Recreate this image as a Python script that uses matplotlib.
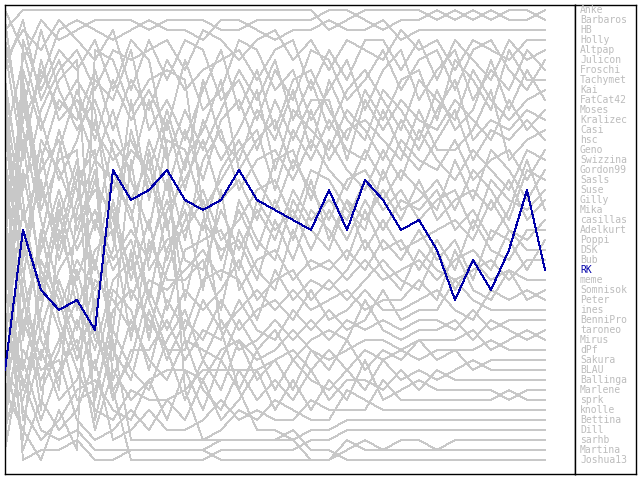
import matplotlib
matplotlib.use("Agg")
import matplotlib.pyplot as plt

names = ["Anke", "Barbaros", "HB", "Holly", "Altpap", "Julicon", "Froschi", "Tachymet",
         "Kai", "FatCat42", "Moses", "Kralizec", "Casi", "hsc", "Geno", "Swizzina",
         "Gordon99", "Sasls", "Suse", "Gilly", "Mika", "casillas", "Adelkurt", "Poppi",
         "DSK", "Bub", "RK", "meme", "Somnisok", "Peter", "ines", "BenniPro", "taroneo",
         "Mirus", "dPf", "Sakura", "BLAU", "Ballinga", "Marlene", "sprk", "knolle",
         "Bettina", "Dill", "sarhb", "Martina", "Joshua13"]

highlight = "RK"

ranks = {
    "Anke":     [3,1,1,1,1,1,1,1,1,1,1,1,1,1,1,1,1,1,3,2,1,1,1,1,2,1,2,1,2,2,1],
    "Barbaros": [14,6,2,4,3,2,2,2,3,2,2,2,3,3,2,2,2,2,1,1,2,3,2,2,1,2,1,2,1,1,2],
    "HB":       [27,12,8,3,2,3,4,3,2,3,3,4,2,2,3,4,3,3,2,3,3,2,4,3,3,3,3,3,3,3,3],
    "Holly":    [9,19,11,7,5,9,5,6,5,4,7,3,4,6,4,3,6,4,7,4,5,6,3,5,4,7,4,5,6,4,4],
    "Altpap":   [40,28,16,10,12,7,13,8,11,6,9,7,6,5,8,5,4,9,5,8,4,4,7,4,8,4,6,8,4,6,5],
    "Julicon":  [6,3,5,2,4,6,3,9,4,8,4,5,10,8,12,7,10,5,6,10,8,5,9,6,5,9,5,4,7,9,6],
    "Froschi":  [18,33,24,15,9,14,8,12,9,13,6,11,9,4,5,9,7,12,9,6,11,7,5,10,7,5,10,7,9,5,7],
    "Tachymet": [1,5,12,18,14,8,10,5,13,10,14,9,5,11,7,13,8,7,11,14,9,12,8,7,12,6,8,11,5,8,8],
    "Kai":      [33,21,30,22,16,23,14,17,10,16,11,15,11,7,10,6,12,8,13,9,7,10,13,8,10,12,7,10,12,10,9],
    "FatCat42": [11,25,18,26,20,12,19,15,17,11,17,8,14,16,11,14,9,15,8,12,14,9,11,14,9,13,11,6,11,7,10],
    "Moses":    [24,9,20,13,19,27,17,22,14,19,13,18,12,10,15,10,14,10,10,16,10,13,10,12,13,10,12,14,10,13,11],
    "Kralizec": [2,15,7,11,8,11,24,10,20,12,19,12,16,13,9,17,11,13,15,11,13,16,12,15,11,8,14,12,13,11,12],
    "Casi":     [37,40,33,27,24,18,22,27,15,23,16,13,8,17,14,12,17,11,16,13,12,14,16,11,15,15,13,9,16,14,13],
    "hsc":      [7,2,10,6,11,16,11,18,23,14,15,21,18,15,13,19,13,16,12,15,16,11,15,17,14,11,16,13,14,12,14],
    "Geno":     [29,17,27,31,26,29,25,13,19,17,24,16,13,19,16,15,18,14,17,19,15,18,14,16,17,14,18,16,15,18,15],
    "Swizzina": [15,37,29,20,28,22,27,24,30,21,18,14,20,18,22,16,15,20,14,17,19,15,18,13,16,18,15,17,19,15,16],
    "Gordon99": [22,11,3,9,13,10,15,20,16,26,20,23,17,14,18,21,16,19,22,18,17,20,17,19,21,16,20,15,17,20,17],
    "Sasls":    [45,35,38,34,30,35,28,26,33,27,22,19,24,22,19,18,22,17,18,21,23,17,21,20,18,21,17,19,22,17,18],
    "Suse":     [12,26,14,17,22,19,21,30,25,20,26,27,21,25,21,24,19,22,20,22,18,21,19,22,20,19,23,18,20,21,19],
    "Gilly":    [19,30,36,28,33,26,33,16,27,24,23,20,26,21,25,20,24,18,24,20,22,19,22,18,22,20,19,21,18,22,20],
    "Mika":     [31,8,19,24,17,31,20,28,22,31,25,24,23,27,20,23,21,25,21,24,20,23,20,21,19,23,21,24,21,16,21],
    "casillas": [4,13,22,29,35,28,30,33,28,29,27,25,28,20,24,26,20,23,25,20,25,22,25,24,23,22,24,20,23,24,22],
    "Adelkurt": [42,31,25,19,25,21,26,23,26,18,30,22,25,24,28,22,26,21,23,26,21,25,24,27,24,27,22,25,26,23,23],
    "Poppi":    [16,27,39,35,27,34,36,25,34,25,21,29,19,29,26,25,28,26,27,25,27,24,26,23,26,24,28,23,24,27,24],
    "DSK":      [25,39,31,21,31,25,23,34,24,28,28,26,31,23,27,29,23,27,26,28,26,28,27,26,28,26,25,27,23,25,25],
    "Bub":      [8,20,34,38,32,37,29,31,37,30,33,28,27,28,32,27,30,28,29,27,24,27,29,25,27,28,27,26,28,26,26],
    "RK":       [37,23,29,31,30,33,17,20,19,17,20,21,20,17,20,21,22,23,19,23,18,20,23,22,25,30,26,29,25,19,27],
    "meme":     [36,44,26,30,36,30,39,36,29,33,29,31,29,26,30,28,27,30,28,30,28,26,28,29,25,29,26,28,27,28,28],
    "Somnisok": [13,29,41,23,29,40,31,29,32,35,35,30,33,31,29,31,29,31,30,29,31,30,30,28,30,25,29,30,27,30,29],
    "Peter":    [30,18,15,25,18,15,35,38,31,36,32,34,30,33,31,30,32,29,32,31,29,31,31,30,29,31,32,29,30,29,30],
    "ines":     [21,42,35,40,38,32,40,35,35,32,36,33,34,30,33,34,31,33,31,33,32,29,32,31,31,28,30,31,31,31,31],
    "BenniPro": [34,14,28,33,40,39,33,37,39,34,31,36,32,35,34,32,34,32,34,32,33,32,33,32,32,33,31,33,32,32,32],
    "taroneo":  [10,22,17,14,23,17,38,32,36,38,34,35,36,32,35,33,36,34,33,34,30,33,34,33,33,32,34,32,33,34,33],
    "Mirus":    [43,36,42,37,34,43,37,40,38,37,37,38,35,34,36,35,33,35,36,35,34,34,35,34,34,34,33,35,34,33,34],
    "dPf":      [17,34,23,32,37,41,42,39,40,40,39,37,37,37,37,36,35,37,35,37,35,36,35,36,35,35,35,34,35,35,35],
    "Sakura":   [38,24,32,39,21,16,18,21,30,35,40,36,39,34,38,36,39,35,37,34,37,35,36,34,36,35,37,36,36,36,36],
    "BLAU":     [26,41,44,42,39,38,41,42,38,42,37,41,36,39,35,39,36,38,39,37,39,36,38,37,38,37,36,37,37,37,37],
    "Ballinga": [5,16,6,12,10,13,16,14,18,22,34,39,41,37,40,38,40,37,40,38,38,39,37,39,37,38,38,38,38,38,38],
    "Marlene":  [41,32,37,36,42,44,43,41,43,40,42,38,42,40,37,41,38,41,38,40,36,40,39,38,39,39,39,39,40,39,39],
    "sprk":     [28,45,40,43,41,36,44,43,41,43,43,42,40,42,41,42,42,40,41,41,41,38,40,40,40,40,40,40,39,40,40],
    "knolle":   [35,10,21,16,15,42,34,44,44,44,44,44,43,41,42,40,41,42,42,39,40,41,41,41,41,41,41,41,41,41,41],
    "Bettina":  [32,38,43,44,43,45,45,45,45,45,45,45,44,44,44,44,44,43,43,42,42,42,42,42,42,42,42,42,42,42,42],
    "Dill":     [44,7,13,8,6,33,39,46,46,46,46,46,45,45,45,45,45,44,44,43,43,43,43,43,43,43,43,43,43,43,43],
    "sarhb":    [23,46,45,45,44,46,46,45,45,45,45,45,46,46,46,46,46,46,46,45,44,45,44,44,45,44,44,44,44,44,44],
    "Martina":  [39,43,46,41,45,5,6,11,8,7,8,21,33,39,43,43,44,46,46,44,45,45,45,45,45,45,45,45,45,45,45],
    "Joshua13": [46,4,9,5,7,4,9,4,6,15,39,44,44,44,44,44,43,45,45,46,46,46,46,46,46,46,46,46,46,46,46],
}

rounds = list(range(len(ranks["Anke"])))

W, H = 640, 480
fig = plt.figure(figsize=(6.4, 4.8), dpi=100)
fig.patch.set_facecolor("white")

# main plot area (pixels: x 5..575, y 5..474)
ax = fig.add_axes([5 / W, (H - 474) / H, 570 / W, 469 / H])
ax.set_xlim(0, 570 / 18)
ax.set_ylim(47.4, 0.5)
ax.set_xticks([])
ax.set_yticks([])
for s in ax.spines.values():
    s.set_linewidth(1.0)
    s.set_color("black")

gray = "#c8c8c8"
blue = "#0000a8"
for n in names:
    if n == highlight:
        continue
    ax.plot(rounds, ranks[n], color=gray, lw=0.6, antialiased=False)
ax.plot(rounds, ranks[highlight], color=blue, lw=0.7, antialiased=False, zorder=5)

# name column (pixels: x 575..636)
lax = fig.add_axes([575 / W, (H - 474) / H, 61 / W, 469 / H])
lax.set_xlim(0, 61)
lax.set_ylim(47.4, 0.5)
lax.set_xticks([])
lax.set_yticks([])
for s in lax.spines.values():
    s.set_linewidth(1.0)
    s.set_color("black")

for i, n in enumerate(names):
    c = blue if n == highlight else "#bcbcbc"
    lax.text(5, i + 1, n, color=c, fontsize=7, family="DejaVu Sans Mono",
             va="center", ha="left")

fig.savefig("out.png", dpi=100)
